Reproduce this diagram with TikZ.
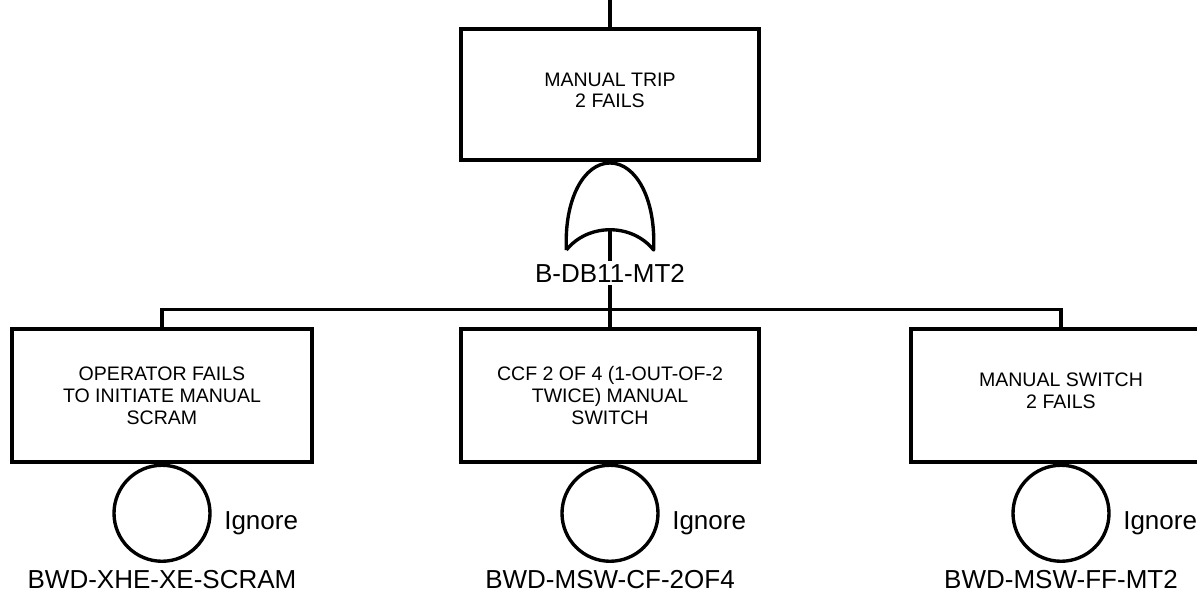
\documentclass[tikz,border=0pt]{standalone}
\usepackage{fontspec}
\setmainfont{Liberation Sans}
\usepackage{tikz}
\usetikzlibrary{calc}

\begin{document}
\begin{tikzpicture}[line width=2.4pt,
		eventbox/.style={draw, rectangle, minimum width=7.5cm, minimum height=3.325cm, align=center, font=\fontsize{13.9}{15.6}\selectfont},
		basicev/.style={draw, circle, minimum size=2.4cm, inner sep=0pt},
		idlbl/.style={font=\fontsize{18.5}{22}\selectfont, inner sep=1pt}
	]
		\useasboundingbox (0,0) rectangle (29.925,14.875);
		\clip (0,0) rectangle (29.925,14.875);

		% top event
		\coordinate (topend) at (15.25,14.875);
		\node[eventbox, minimum width=7.45cm, minimum height=3.275cm] (top) at (15.25,12.51) {MANUAL TRIP\\2 FAILS\\[-9.5pt]};
		\draw (topend) -- (top.north);

		% OR gate
		\draw[line join=round] (14.16,8.625) .. controls (14.1,9.9) and (14.6,10.8) .. (15.25,10.8)
			.. controls (15.9,10.8) and (16.4,9.9) .. (16.34,8.625)
			.. controls (15.8,9.3) and (14.7,9.3) .. (14.16,8.625);
		\coordinate (gate) at (15.25,9.125);
		\node[idlbl] (gatelbl) at (15.25,8.05) {B-DB11-MT2};
		\draw (gate) -- (gatelbl.north);

		% bus
		\coordinate (bus) at (15.25,7.1);
		\draw (gatelbl.south) -- (bus);

		% basic events
		\node[eventbox] (opfail) at (4.05,4.99) {OPERATOR FAILS\\TO INITIATE MANUAL\\SCRAM};
		\node[eventbox, minimum width=7.45cm] (ccf) at (15.25,4.99) {CCF 2 OF 4 (1-OUT-OF-2\\TWICE) MANUAL\\SWITCH};
		\node[eventbox] (msw) at (26.525,4.99) {MANUAL SWITCH\\2 FAILS\\[-9.5pt]};

		\draw (opfail.north) -- ++(0,0.45) -| (msw.north);
		\draw (bus) -- (ccf.north);

		\node[basicev, anchor=north] (c1) at (opfail.south) {};
		\node[basicev, anchor=north] (c2) at (ccf.south) {};
		\node[basicev, anchor=north] (c3) at (msw.south) {};

		\node[idlbl, anchor=west] (ig1) at ($(c1.center)+(1.48,-0.25)$) {Ignore};
		\node[idlbl, anchor=west] (ig2) at ($(c2.center)+(1.48,-0.25)$) {Ignore};
		\node[idlbl, anchor=west] (ig3) at ($(c3.center)+(1.48,-0.25)$) {Ignore};

		\node[idlbl] (id1) at (4.05,0.375) {BWD-XHE-XE-SCRAM};
		\node[idlbl] (id2) at (15.25,0.375) {BWD-MSW-CF-2OF4};
		\node[idlbl] (id3) at (26.525,0.375) {BWD-MSW-FF-MT2};
\end{tikzpicture}
\end{document}
